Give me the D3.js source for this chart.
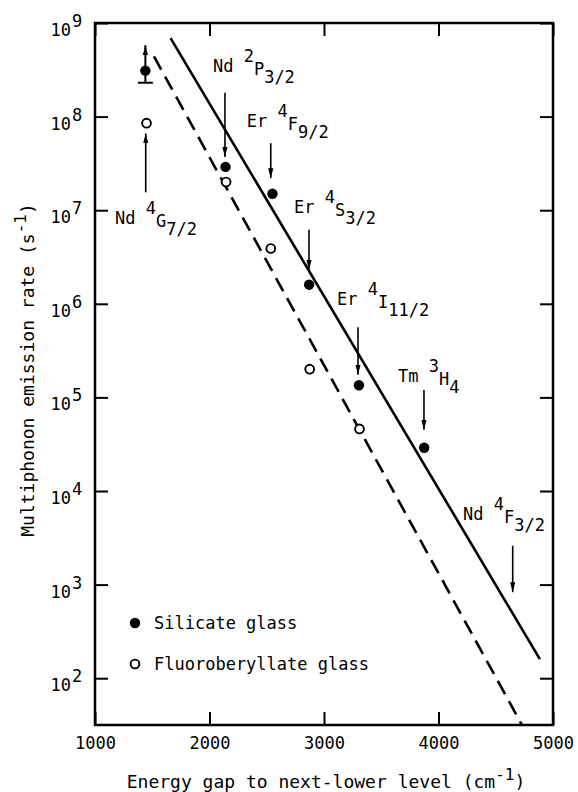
<!DOCTYPE html>
<html>
<head>
<meta charset="utf-8">
<script src="https://cdn.jsdelivr.net/npm/d3@7"></script>
<style>
  body { margin: 0; background: #fff; }
  text { font-family: "DejaVu Sans Mono", monospace; fill: #000; }
</style>
</head>
<body>
<div id="chart"></div>
<script>
// Energy gap (cm-1) and multiphonon emission rate (s-1)
const silicateGap  = [1440, 2140, 2550, 2870, 3305, 3875];
const silicateRate = [3.1e8, 2.9e7, 1.5e7, 1.6e6, 1.35e5, 2.9e4];
const fluoroGap    = [1450, 2145, 2535, 2875, 3310];
const fluoroRate   = [8.5e7, 2.0e7, 3.9e6, 2.0e5, 4.6e4];

// Nd 4G7/2 silicate point: lower error bar and "greater than" arrow
const errLower = 2.3e8;
const errUpper = 5.8e8;

// fitted lines (end points)
const solidGap  = [1660, 4885];
const solidRate = [6.9e8, 1.6e2];
const dashGap   = [1515, 4730];
const dashRate  = [4.4e8, 3.16e1];

// level labels: element, superscript, term, subscript
const levelNames = [
  ["Nd", "4", "G", "7/2"],
  ["Nd", "2", "P", "3/2"],
  ["Er", "4", "F", "9/2"],
  ["Er", "4", "S", "3/2"],
  ["Er", "4", "I", "11/2"],
  ["Tm", "3", "H", "4"],
  ["Nd", "4", "F", "3/2"]
];
// label anchor (gap, rate) and arrow (gap, from rate, to rate)
const labelGap   = [1175, 2030, 2325, 2738, 3114, 3646, 4214];
const labelRate  = [7.2e6, 3.0e8, 7.8e7, 9.3e6, 9.8e5, 1.45e5, 4.9e3];
const arrowGap   = [1443, 2135, 2535, 2869, 3297, 3873, 4648];
const arrowFrom  = [1.55e7, 1.8e8, 5.2e7, 6.2e6, 5.6e5, 1.2e5, 2.6e3];
const arrowTo    = [6.6e7, 3.7e7, 2.2e7, 2.3e6, 1.75e5, 4.5e4, 8.3e2];

const xTicks = [1000, 2000, 3000, 4000, 5000];
const yTicks = [1e2, 1e3, 1e4, 1e5, 1e6, 1e7, 1e8, 1e9];
const legendNames = ["Silicate glass", "Fluoroberyllate glass"];

const w = 578, h = 792;
const padL = 95, padR = 553, padT = 23, padB = 725;
const fs = 17;

const svg = d3.select("#chart").append("svg")
  .attr("width", w).attr("height", h);
svg.append("rect").attr("width", w).attr("height", h).attr("fill", "#fff");

svg.append("defs").append("marker")
  .attr("id", "head")
  .attr("markerUnits", "userSpaceOnUse")
  .attr("viewBox", "0 -3 10 6")
  .attr("refX", 10).attr("refY", 0)
  .attr("markerWidth", 10).attr("markerHeight", 6)
  .attr("orient", "auto")
  .append("path").attr("d", "M0,-2.6L10,0L0,2.6Z").attr("fill", "#000");

const x = d3.scaleLinear().domain([1000, 5000]).range([padL, padR]);
const y = d3.scaleLog().domain([Math.pow(10, 1.5), 1e9]).range([padB, padT]);

// ticks on all four sides, pointing inward
const tickLen = 13;
svg.append("g").attr("transform", `translate(0,${padB})`)
  .call(d3.axisBottom(x).tickValues(xTicks).tickSize(-tickLen).tickPadding(12)
    .tickFormat(d3.format("d")))
  .call(g => g.select(".domain").remove())
  .call(g => g.selectAll("line").attr("stroke-width", 2))
  .call(g => g.selectAll("text").attr("font-size", fs)
    .attr("font-family", "DejaVu Sans Mono"));
svg.append("g").attr("transform", `translate(0,${padT})`)
  .call(d3.axisTop(x).tickValues(xTicks).tickSize(-tickLen).tickFormat(""))
  .call(g => g.select(".domain").remove())
  .call(g => g.selectAll("line").attr("stroke-width", 2));
svg.append("g").attr("transform", `translate(${padL},0)`)
  .call(d3.axisLeft(y).tickValues(yTicks).tickSize(-tickLen).tickFormat(""))
  .call(g => g.select(".domain").remove())
  .call(g => g.selectAll("line").attr("stroke-width", 2));
svg.append("g").attr("transform", `translate(${padR},0)`)
  .call(d3.axisRight(y).tickValues(yTicks).tickSize(-tickLen).tickFormat(""))
  .call(g => g.select(".domain").remove())
  .call(g => g.selectAll("line").attr("stroke-width", 2));

// y tick labels as 10^n
const yLab = svg.append("g").selectAll("text").data(yTicks).join("text")
  .attr("font-size", fs);
yLab.append("tspan")
  .attr("x", padL - 24).attr("y", d => y(d) + 13)
  .attr("text-anchor", "end").text("10");
yLab.append("tspan")
  .attr("x", padL - 23).attr("y", d => y(d) + 4)
  .text(d => Math.round(Math.log10(d)));

// frame
svg.append("rect")
  .attr("x", padL).attr("y", padT)
  .attr("width", padR - padL).attr("height", padB - padT)
  .attr("fill", "none").attr("stroke", "#000").attr("stroke-width", 2.5);

// axis titles
const xt = svg.append("text").attr("x", (padL + padR) / 2 + 2).attr("y", 788)
  .attr("text-anchor", "middle").attr("font-size", fs + 1);
xt.append("tspan").text("Energy gap to next-lower level (cm");
xt.append("tspan").attr("dy", -8).attr("font-size", fs - 1).text("-1");
xt.append("tspan").attr("dy", 8).text(")");

const yt = svg.append("text")
  .attr("transform", "translate(34,370) rotate(-90)")
  .attr("text-anchor", "middle").attr("font-size", fs + 1);
yt.append("tspan").text("Multiphonon emission rate (s");
yt.append("tspan").attr("dy", -8).attr("font-size", fs - 1).text("-1");
yt.append("tspan").attr("dy", 8).text(")");

// fitted lines
const line = d3.line().x(d => x(d[0])).y(d => y(d[1]));
const plot = svg.append("g");
plot.append("path")
  .attr("d", line(d3.zip(solidGap, solidRate)))
  .attr("fill", "none").attr("stroke", "#000").attr("stroke-width", 2.6);
plot.append("path")
  .attr("d", line(d3.zip(dashGap, dashRate)))
  .attr("fill", "none").attr("stroke", "#000").attr("stroke-width", 2.6)
  .attr("stroke-dasharray", "15,8");

// error bar on Nd 4G7/2 silicate
plot.append("line")
  .attr("x1", x(silicateGap[0])).attr("x2", x(silicateGap[0]))
  .attr("y1", y(errLower)).attr("y2", y(silicateRate[0]))
  .attr("stroke", "#000").attr("stroke-width", 2);
plot.append("line")
  .attr("x1", x(silicateGap[0]) - 7.5).attr("x2", x(silicateGap[0]) + 7.5)
  .attr("y1", y(errLower)).attr("y2", y(errLower))
  .attr("stroke", "#000").attr("stroke-width", 2);
plot.append("line")
  .attr("x1", x(silicateGap[0])).attr("x2", x(silicateGap[0]))
  .attr("y1", y(silicateRate[0])).attr("y2", y(errUpper))
  .attr("stroke", "#000").attr("stroke-width", 2)
  .attr("marker-end", "url(#head)");

// points
plot.selectAll(".sil").data(d3.zip(silicateGap, silicateRate)).join("circle")
  .attr("class", "sil")
  .attr("cx", d => x(d[0])).attr("cy", d => y(d[1])).attr("r", 5.2)
  .attr("fill", "#000");
plot.selectAll(".flu").data(d3.zip(fluoroGap, fluoroRate)).join("circle")
  .attr("class", "flu")
  .attr("cx", d => x(d[0])).attr("cy", d => y(d[1])).attr("r", 4.4)
  .attr("fill", "#fff").attr("stroke", "#000").attr("stroke-width", 1.9);

// level arrows
plot.selectAll(".arr").data(arrowGap).join("line")
  .attr("class", "arr")
  .attr("x1", d => x(d)).attr("x2", d => x(d))
  .attr("y1", (d, i) => y(arrowFrom[i])).attr("y2", (d, i) => y(arrowTo[i]))
  .attr("stroke", "#000").attr("stroke-width", 1.6)
  .attr("marker-end", "url(#head)");

// level labels
const lab = plot.selectAll(".lab").data(levelNames).join("text")
  .attr("class", "lab").attr("font-size", fs)
  .attr("x", (d, i) => x(labelGap[i])).attr("y", (d, i) => y(labelRate[i]));
lab.append("tspan").text(d => d[0] + "\u00a0");
lab.append("tspan").attr("dy", -10).text(d => d[1]);
lab.append("tspan").attr("dy", 13).text(d => d[2]);
lab.append("tspan").attr("dy", 8).text(d => d[3]);

// legend
const lg = svg.append("g").attr("transform", `translate(${padL + 40},623)`);
lg.append("circle").attr("r", 5.2).attr("fill", "#000");
lg.append("circle").attr("cy", 41).attr("r", 4.4)
  .attr("fill", "#fff").attr("stroke", "#000").attr("stroke-width", 1.9);
lg.selectAll("text").data(legendNames).join("text")
  .attr("x", 19).attr("y", (d, i) => i * 41 + 6)
  .attr("font-size", fs).text(d => d);
</script>
</body>
</html>
